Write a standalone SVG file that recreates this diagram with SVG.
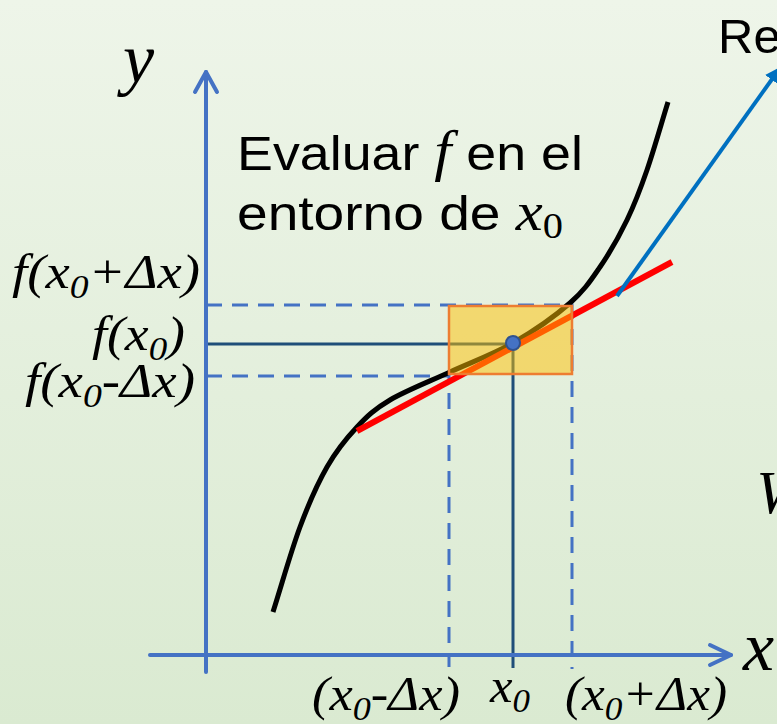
<svg xmlns="http://www.w3.org/2000/svg" width="777" height="724" viewBox="0 0 777 724">
<defs>
<linearGradient id="bg" x1="0" y1="0" x2="0" y2="1">
<stop offset="0" stop-color="#EEF5E9"/>
<stop offset="1" stop-color="#DAEAD1"/>
</linearGradient>
<marker id="blueArrow" viewBox="0 0 10 10" refX="9" refY="5" markerWidth="4" markerHeight="4" orient="auto" markerUnits="strokeWidth">
<path d="M0,0 L10,5 L0,10 z" fill="#0070C0"/>
</marker>
<style>
.axis{stroke:#4472C4;stroke-width:4;fill:none;stroke-linecap:round;stroke-linejoin:round}
.dash{stroke:#4472C4;stroke-width:3;fill:none;stroke-dasharray:16 10}
.guide{stroke:#1F4E79;stroke-width:3;fill:none}
.math{font-family:"Liberation Serif","Times New Roman",serif;font-style:italic;fill:#000}
.sans{font-family:"Liberation Sans",Arial,sans-serif;fill:#000}
</style>
</defs>
<rect width="777" height="724" fill="url(#bg)"/>
<g id="connectors">
<path class="dash" d="M206,305 H572 V669"/>
<path class="dash" d="M206,376 H449 V667"/>
<path class="guide" d="M206,344 H513 V668"/>
<g id="y-axis"><path class="axis" d="M206,672 V72"/><path class="axis" d="M195,92 L206,72 L217,92"/></g>
<g id="x-axis"><path class="axis" d="M150,655 H731"/><path class="axis" d="M710,645 L731,655 L710,665"/></g>
<path id="curve" d="M273,612 C282,583.7 291,551.2 300,527 C309,502.8 317.5,483.7 327,467 C336.5,450.3 346.5,438.2 357,427 C367.5,415.8 374.5,409.2 390,400 C405.5,390.8 429.5,381.5 450,372 C470.5,362.5 493,354.5 513,343 C533,331.5 555.5,315.7 570,303 C584.5,290.3 590.5,280.8 600,267 C609.5,253.2 619.2,236.2 627,220 C634.8,203.8 640.2,189.7 647,170 C653.8,150.3 661,124.7 668,102" fill="none" stroke="#000" stroke-width="5"/>
<line id="tangent" x1="357" y1="431" x2="672" y2="262" stroke="#FF0000" stroke-width="6"/>
<line id="pointer" x1="617" y1="296" x2="780" y2="68" stroke="#0070C0" stroke-width="4" marker-end="url(#blueArrow)"/>
</g>
<g id="box"><rect x="449" y="306" width="123" height="68" fill="#FFC000" fill-opacity="0.5" stroke="#ED7D31" stroke-width="2.5"/></g>
<g id="point"><circle cx="513" cy="343" r="7" fill="#4472C4" stroke="#2F528F" stroke-width="2"/></g>
<g id="labels">
<text class="math" x="123" y="82" font-size="70">y</text>
<text class="math" x="743" y="670" font-size="70">x</text>
<text class="math" x="756" y="513" font-size="62">W</text>
<text class="sans" x="718" y="53" font-size="49">Re</text>
<text x="237" y="170" font-size="49" class="sans" textLength="346" lengthAdjust="spacingAndGlyphs">Evaluar <tspan class="math" font-size="56">f</tspan> en el</text>
<text x="237" y="230" font-size="49" class="sans" textLength="326" lengthAdjust="spacingAndGlyphs">entorno de <tspan class="math" font-size="54">x</tspan><tspan font-size="36" dy="8" font-style="normal" font-family="Liberation Serif, serif">0</tspan></text>
<text class="math" x="12" y="288" font-size="48" textLength="188" lengthAdjust="spacingAndGlyphs">f(x<tspan font-size="33" dy="10">0</tspan><tspan dy="-10">+Δx)</tspan></text>
<text class="math" x="92" y="350" font-size="48" textLength="93" lengthAdjust="spacingAndGlyphs">f(x<tspan font-size="33" dy="10">0</tspan><tspan dy="-10">)</tspan></text>
<text class="math" x="25" y="397" font-size="48" textLength="170" lengthAdjust="spacingAndGlyphs">f(x<tspan font-size="33" dy="10">0</tspan><tspan dy="-10">-Δx)</tspan></text>
<text class="math" x="312" y="710" font-size="48" textLength="148" lengthAdjust="spacingAndGlyphs">(x<tspan font-size="33" dy="10">0</tspan><tspan dy="-10">-Δx)</tspan></text>
<text class="math" x="490" y="702" font-size="48" textLength="40" lengthAdjust="spacingAndGlyphs">x<tspan font-size="33" dy="10">0</tspan></text>
<text class="math" x="565" y="710" font-size="48" textLength="162" lengthAdjust="spacingAndGlyphs">(x<tspan font-size="33" dy="10">0</tspan><tspan dy="-10">+Δx)</tspan></text>
</g>
</svg>
